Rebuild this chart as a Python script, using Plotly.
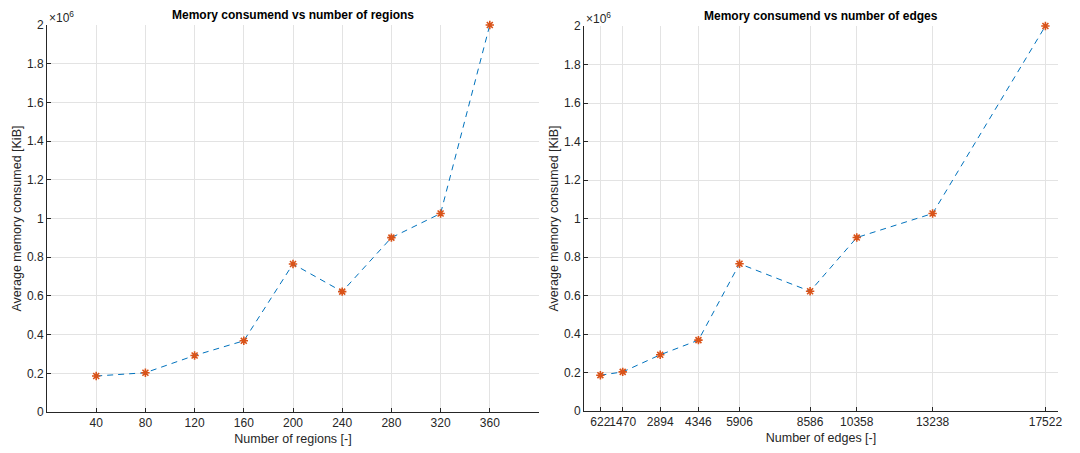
import plotly.graph_objects as go

# Memory use measured for each problem size
regions = [40, 80, 120, 160, 200, 240, 280, 320, 360]
edges = [622, 1470, 2894, 4346, 5906, 8586, 10358, 13238, 17522]
memory_kib = [186000, 203000, 292000, 368000, 765000, 622000, 901000, 1026000, 2000000]

y_tickvals = [0, 200000, 400000, 600000, 800000, 1000000, 1200000, 1400000, 1600000, 1800000, 2000000]
y_ticktext = ["0", "0.2", "0.4", "0.6", "0.8", "1", "1.2", "1.4", "1.6", "1.8", "2"]

W, H = 1080, 453
LINE_COLOR = "#0072BD"
MARK_COLOR = "#D95319"
GRID = "#e3e3e3"
AXIS = "#262626"
FONT = "Liberation Sans, Arial, sans-serif"

fig = go.Figure()


def add_series(x, xa, ya):
    fig.add_trace(go.Scatter(
        x=x, y=memory_kib, xaxis=xa, yaxis=ya, mode="lines",
        line=dict(color=LINE_COLOR, width=1, dash="6px,5px"),
        showlegend=False, hoverinfo="skip"))
    fig.add_trace(go.Scatter(
        x=x, y=memory_kib, xaxis=xa, yaxis=ya, mode="markers",
        marker=dict(symbol="asterisk-open", size=7, color=MARK_COLOR,
                    line=dict(color=MARK_COLOR, width=1.6)),
        showlegend=False, cliponaxis=False))


add_series(regions, "x", "y")
add_series(edges, "x2", "y2")

common_x = dict(showgrid=True, gridcolor=GRID, gridwidth=1, showline=True,
                linecolor=AXIS, linewidth=1, ticks="inside", ticklen=4,
                tickcolor=AXIS, zeroline=False, mirror=False, automargin=False,
                tickangle=0,
                tickfont=dict(family=FONT, size=12, color="#262626"),
                title_font=dict(family=FONT, size=12.5, color="#262626"),
                title_standoff=4)
common_y = dict(showgrid=True, gridcolor=GRID, gridwidth=1, showline=True,
                linecolor=AXIS, linewidth=1, ticks="inside", ticklen=4,
                tickcolor=AXIS, zeroline=False, mirror=False, automargin=False,
                range=[0, 2000000], tickvals=y_tickvals, ticktext=y_ticktext,
                tickfont=dict(family=FONT, size=12, color="#262626"),
                title_font=dict(family=FONT, size=12.5, color="#262626"),
                title_standoff=1)

x1d = [47 / W, 539 / W]
x2d = [584 / W, 1058 / W]
y1d = [1 - 412 / H, 1 - 25 / H]
y2d = [1 - 411 / H, 1 - 26 / H]

fig.update_layout(
    width=W, height=H,
    margin=dict(l=0, r=0, t=0, b=0, autoexpand=False),
    paper_bgcolor="white", plot_bgcolor="white",
    xaxis=dict(common_x, domain=x1d, range=[0, 400], tickvals=regions,
               ticktext=[str(v) for v in regions],
               title_text="Number of regions [-]", anchor="y"),
    yaxis=dict(common_y, domain=y1d, anchor="x"),
    xaxis2=dict(common_x, domain=x2d, range=[0, 18000], tickvals=edges,
                ticktext=[str(v) for v in edges],
                title_text="Number of edges [-]", anchor="y2"),
    yaxis2=dict(common_y, domain=y2d, anchor="x2"),
)

# Panel titles, y-axis titles and exponent labels
for xd, yd, title in [(x1d, y1d, "Memory consumend vs number of regions"),
                      (x2d, y2d, "Memory consumend vs number of edges")]:
    fig.add_annotation(x=(xd[0] + xd[1]) / 2, y=yd[1], xref="paper", yref="paper",
                       text="<b>" + title + "</b>", showarrow=False,
                       xanchor="center", yanchor="bottom", yshift=1,
                       font=dict(family=FONT, size=12, color="black"))
    fig.add_annotation(x=xd[0], y=yd[1], xref="paper", yref="paper",
                       text="×10<sup>6</sup>", showarrow=False,
                       xanchor="left", yanchor="bottom", yshift=-2,
                       font=dict(family=FONT, size=12, color="#262626"))
    fig.add_annotation(x=xd[0], y=(yd[0] + yd[1]) / 2, xref="paper", yref="paper",
                       text="Average memory consumed [KiB]", showarrow=False,
                       textangle=-90, xanchor="center", yanchor="middle",
                       xshift=-30,
                       font=dict(family=FONT, size=12.5, color="#262626"))

fig.write_html("out.html")
